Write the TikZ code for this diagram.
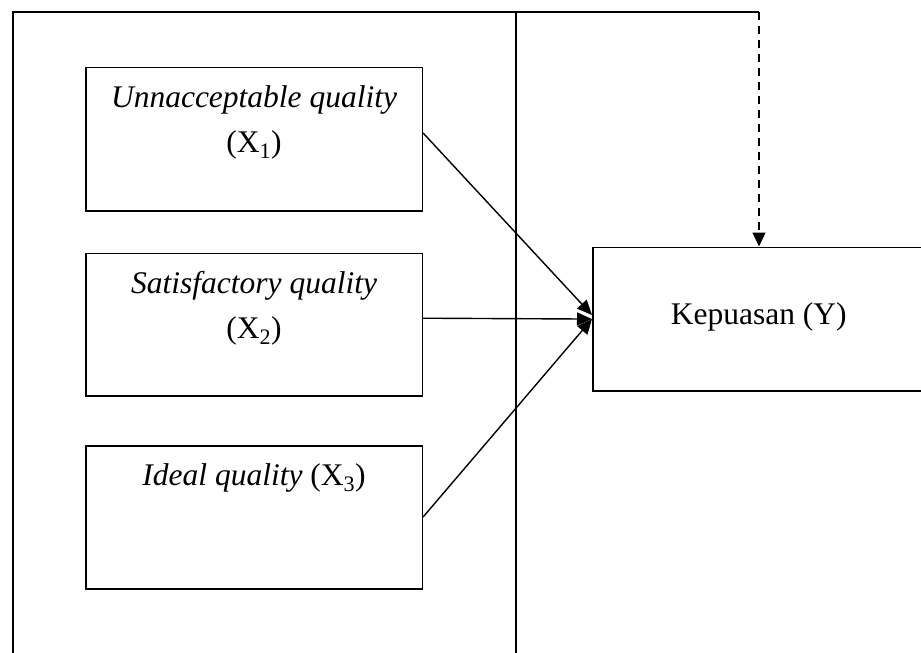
\documentclass[tikz,border=0pt]{standalone}
\usepackage{fontspec}
\setmainfont{Liberation Serif}
\usetikzlibrary{arrows.meta,calc}
\begin{document}
\begin{tikzpicture}[x=1pt,y=-1pt,
  box/.style={draw,line width=1.6pt,rectangle,inner sep=0pt,anchor=north west},
  lbl/.style={anchor=base,inner sep=0pt,font=\fontsize{31.5}{36}\selectfont},
  frameline/.style={line width=1.6pt},
  conn/.style={line width=1.4pt,-{Triangle[length=15pt,width=13pt]}},
  dashconn/.style={line width=1.4pt,dash pattern=on 8pt off 6pt,-{Triangle[length=14pt,width=13pt]}},
  ]
\useasboundingbox (0,0) rectangle (921,653);
\clip (0,0) rectangle (921,653);
% boxes
\node[box, minimum width=336.5pt, minimum height=143.3pt] (x1) at (85,66.7) {};
\node[box, minimum width=336.5pt, minimum height=142.3pt] (x2) at (85,252.7) {};
\node[box, minimum width=336.5pt, minimum height=143pt] (x3) at (85,445) {};
\node[box, minimum width=332pt, minimum height=143.5pt] (ky) at (592,246.5) {};
% texts
\node[lbl] (t1a) at ($(x1.north)+(0,40.3)$) {\textit{Unnacceptable quality}};
\node[lbl] (t1b) at ($(x1.north)+(0,86)$) {(X\textsubscript{1})};
\node[lbl] (t2a) at ($(x2.north)+(0,40.3)$) {\textit{Satisfactory quality}};
\node[lbl] (t2b) at ($(x2.north)+(0,86)$) {(X\textsubscript{2})};
\node[lbl] (t3a) at ($(x3.north)+(0,40.3)$) {\textit{Ideal quality} (X\textsubscript{3})};
\node[lbl] (ty) at ($(ky.center)+(0,5.5)$) {Kepuasan (Y)};
% frame
\coordinate (fbl) at (12.7,665);
\coordinate (ftl) at (12.7,11.7);
\coordinate (ftr) at (759,11.7);
\coordinate (vt) at (515.7,11.7);
\coordinate (vb) at (515.7,665);
\draw[frameline] (fbl) -- (ftl) -- (ftr);
\draw[frameline] (vt) -- (vb);
\draw[dashconn] (ftr) -- (ftr |- ky.north);
% connectors
\draw[conn] ($(x1.north east)+(0,66.3)$) -- ($(ky.west)+(0,-4)$);
\draw[conn] ($(x2.north east)+(0,65.5)$) -- (ky.west);
\draw[conn] ($(x3.north east)+(0,72)$) -- (ky.west);
\end{tikzpicture}
\end{document}
